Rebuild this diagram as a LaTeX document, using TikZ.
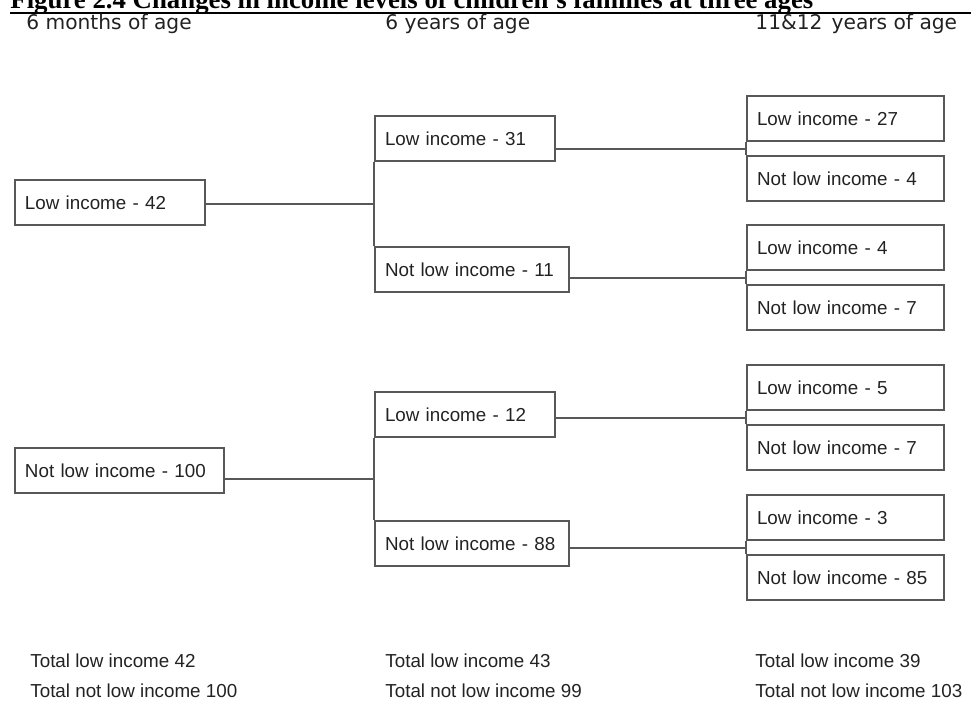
\documentclass[tikz,border=0pt]{standalone}
\usepackage{fontspec}
\setmainfont{Liberation Serif}
\setsansfont{Liberation Sans}
\newfontfamily\headfont{DejaVu Sans}
\usetikzlibrary{
  positioning,
}
\definecolor{linegray}{RGB}{88, 88, 88}
\definecolor{textgray}{RGB}{34, 34, 34}
\tikzstyle{incbox} = [
  draw=linegray,
  line width=1pt,
  anchor=north west,
  minimum height=22.5pt,
  inner xsep=5pt,
  inner ysep=0pt,
  align=left,
  font=\sffamily\fontsize{9.4}{11}\selectfont,
  text=textgray,
]
\tikzstyle{link} = [
  draw=linegray,
  line width=1pt,
]
\tikzstyle{colhead} = [
  anchor=base west,
  inner sep=0pt,
  font=\headfont\fontsize{10.1}{12}\selectfont,
  text=textgray,
]
\tikzstyle{total} = [
  anchor=base west,
  inner sep=0pt,
  font=\sffamily\fontsize{9.4}{11}\selectfont,
  text=textgray,
]

\begin{document}
\begin{tikzpicture}[x=0.5pt, y=-0.5pt]
  \useasboundingbox (0,0) rectangle (971,702);
  % title and rule
  \node[anchor=base west, inner sep=0pt, font=\bfseries\fontsize{13.4}{15}\selectfont] (title) at (10,8.5)
    {Figure 2.4 Changes in income levels of children's families at three ages};
  \coordinate (rulel) at (10,13);
  \coordinate (ruler) at (971,13);
  \draw[line width=0.9pt] (rulel) -- (ruler);

  % column headings
  \node[colhead] (h1) at (26,29) {6 months of age};
  \node[colhead] (h2) at (385,29) {6 years of age};
  \node[colhead] (h3) at (755,29) {11\&12\hspace{0.45em}years of age};

  % 6 months
  \node[incbox, text width=85pt] (l42) at (14,179) {Low income - 42};
  \node[incbox, text width=94.5pt] (n100) at (14,447) {Not low income - 100};

  % 6 years
  \node[incbox, text width=80pt] (a31) at (374,115) {Low income - 31};
  \node[incbox, text width=87pt] (a11) at (374,246) {Not low income - 11};
  \node[incbox, text width=80pt] (a12) at (374,391) {Low income - 12};
  \node[incbox, text width=87pt] (a88) at (374,520) {Not low income - 88};

  % 11 and 12 years
  \node[incbox, text width=88.5pt] (b27) at (746,95) {Low income - 27};
  \node[incbox, text width=88.5pt] (b4) at (746,155) {Not low income - 4};
  \node[incbox, text width=88.5pt] (c4) at (746,224) {Low income - 4};
  \node[incbox, text width=88.5pt] (c7) at (746,284) {Not low income - 7};
  \node[incbox, text width=88.5pt] (d5) at (746,364) {Low income - 5};
  \node[incbox, text width=88.5pt] (d7) at (746,424) {Not low income - 7};
  \node[incbox, text width=88.5pt] (e3) at (746,494) {Low income - 3};
  \node[incbox, text width=88.5pt] (e85) at (746,554) {Not low income - 85};

  % branches
  \draw[link] (a31.south west) -- (a11.north west) coordinate[midway] (j1);
  \draw[link] (l42.east |- j1) -- (j1);
  \draw[link] (a12.south west) -- (a88.north west) coordinate[midway] (j2);
  \draw[link] (n100.east |- j2) -- (j2);

  \draw[link] (b27.south west) -- (b4.north west) coordinate[midway] (k1);
  \draw[link] (a31.east |- k1) -- (k1);
  \draw[link] (c4.south west) -- (c7.north west) coordinate[midway] (k2);
  \draw[link] (a11.east |- k2) -- (k2);
  \draw[link] (d5.south west) -- (d7.north west) coordinate[midway] (k3);
  \draw[link] (a12.east |- k3) -- (k3);
  \draw[link] (e3.south west) -- (e85.north west) coordinate[midway] (k4);
  \draw[link] (a88.east |- k4) -- (k4);

  % totals
  \node[total] (t1a) at (30,667) {Total low income 42};
  \node[total] (t1b) at (30,697) {Total not low income 100};
  \node[total] (t2a) at (385,667) {Total low income 43};
  \node[total] (t2b) at (385,697) {Total not low income 99};
  \node[total] (t3a) at (755,667) {Total low income 39};
  \node[total] (t3b) at (755,697) {Total not low income 103};
\end{tikzpicture}
\end{document}
